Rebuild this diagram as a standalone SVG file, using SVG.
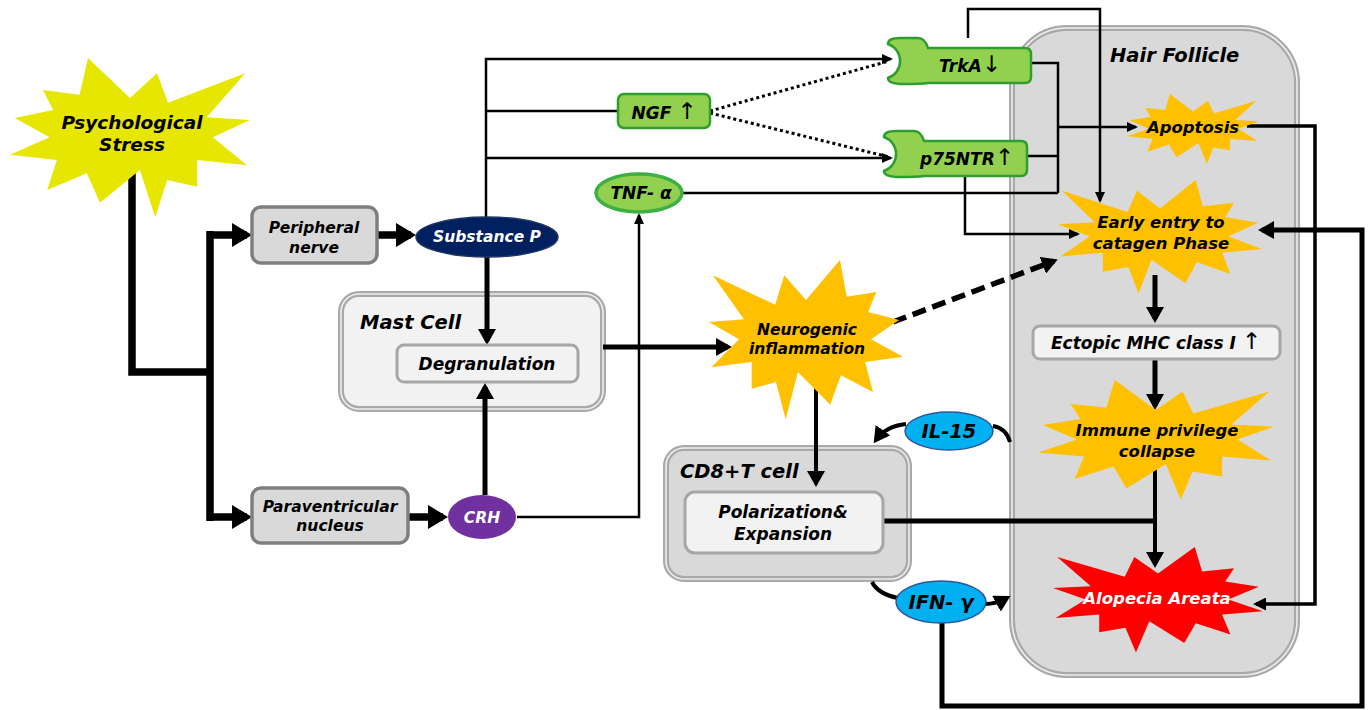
<svg xmlns="http://www.w3.org/2000/svg" width="1371" height="710" viewBox="0 0 1371 710">
<style>
text{font-family:"DejaVu Sans",Verdana,sans-serif;font-weight:bold;font-style:italic;fill:#000;text-anchor:middle}
.t15{font-size:15.5px}.t16{font-size:16.5px}.t17{font-size:17px}.t18{font-size:18.5px}.t19{font-size:19.5px}
.lft{text-anchor:start}
.wt{fill:#fff}
.arr{font-size:23px;font-style:normal;font-weight:normal}
.box{fill:#d9d9d9;stroke:#7f7f7f;stroke-width:3.5}
.inner{fill:#f2f2f2;stroke:#a6a6a6;stroke-width:3}
.cellO{stroke:#a9a9a9;stroke-width:6}
.cellI{fill:none;stroke:#eeeeee;stroke-width:1.6}
.green{fill:#92d050;stroke:#2e9e2e;stroke-width:2.5}
.blue{fill:#00b0f0;stroke:#2f5597;stroke-width:1.5}
.ln{fill:none;stroke:#000;stroke-linejoin:miter}
.w2{stroke-width:2.5}.w3{stroke-width:3.5}.w4{stroke-width:4}.w5{stroke-width:5}.w7{stroke-width:7.5}
.dot{stroke-width:3;stroke-dasharray:3 3}
.dash{stroke-width:5.5;stroke-dasharray:14 7}
</style>
<defs>
<path id="burst" d="M-0.35,-1 L0,-0.5 L0.225,-0.81 L0.317,-0.44 L0.96,-0.81 L0.64,-0.26 L1,-0.225 L0.69,-0.01 L0.975,0.34 L0.56,0.275 L0.56,0.61 L0.31,0.525 L0.21,0.99 L0.083,0.4 L-0.25,0.81 L-0.36,0.44 L-0.69,0.65 L-0.61,0.275 L-1,0.21 L-0.67,-0.01 L-0.96,-0.25 L-0.64,-0.35 L-0.725,-0.6 L-0.42,-0.54 Z"/>
<path id="wrench" d="M12,0 H30 Q37,0 40,10 H137 Q143,10 143,16 V39 Q143,45 137,45 H40 Q33,46 16,46 Q0,46 0,40 A18,18 0 0 0 0,6 Q0,0 12,0 Z"/>
<marker id="ahL" markerUnits="userSpaceOnUse" markerWidth="20" markerHeight="24" refX="15" refY="12" orient="auto"><path d="M0,0 L20,12 L0,24 Z"/></marker>
<marker id="ahM" markerUnits="userSpaceOnUse" markerWidth="16" markerHeight="18" refX="12" refY="9" orient="auto"><path d="M0,0 L16,9 L0,18 Z"/></marker>
<marker id="ahS2" markerUnits="userSpaceOnUse" markerWidth="13" markerHeight="13" refX="10" refY="6.5" orient="auto"><path d="M0,0 L13,6.5 L0,13 Z"/></marker>
<marker id="ahS" markerUnits="userSpaceOnUse" markerWidth="11" markerHeight="10" refX="9" refY="5" orient="auto"><path d="M0,0 L11,5 L0,10 Z"/></marker>
</defs>

<g id="hair-follicle">
<rect class="cellO" x="1012" y="28" width="285" height="647" rx="55" fill="#d9d9d9"/>
<rect class="cellI" x="1012" y="28" width="285" height="647" rx="55"/>
<text class="t19 lft" x="1110" y="62">Hair Follicle</text>
</g>

<g id="mast-cell">
<rect class="cellO" x="341" y="294" width="262" height="115" rx="18" fill="#f2f2f2"/>
<rect class="cellI" x="341" y="294" width="262" height="115" rx="18"/>
<text class="t19 lft" x="360" y="329">Mast Cell</text>
</g>

<g id="cd8-cell">
<rect class="cellO" x="666" y="448" width="243" height="131" rx="18" fill="#d9d9d9"/>
<rect class="cellI" x="666" y="448" width="243" height="131" rx="18"/>
<text class="t19 lft" x="680" y="478">CD8+T cell</text>
</g>

<g id="connectors">
<path class="ln w7" d="M132,168 V372 H210"/>
<path class="ln w7" d="M210,231 V521"/>
<path class="ln w7" d="M210,235 H247" marker-end="url(#ahL)"/>
<path class="ln w7" d="M210,517 H247" marker-end="url(#ahL)"/>
<path class="ln w7" d="M377,235 H411" marker-end="url(#ahL)"/>
<path class="ln w7" d="M408,517 H443" marker-end="url(#ahL)"/>
<path class="ln w5" d="M487,257 V341" marker-end="url(#ahM)"/>
<path class="ln w5" d="M485,495 V387" marker-end="url(#ahM)"/>
<path class="ln w5" d="M603,347 H728" marker-end="url(#ahM)"/>
<path class="ln w4" d="M816,388 V483" marker-end="url(#ahM)"/>
<path class="ln w5" d="M1155,275 V319" marker-end="url(#ahM)"/>
<path class="ln w5" d="M1155,359 V406" marker-end="url(#ahM)"/>
<path class="ln w4" d="M1155,470 V564" marker-end="url(#ahM)"/>
<path class="ln w5" d="M883,521 H1155"/>
<path class="ln w5" d="M942,623 V706 H1362 V230 H1262" marker-end="url(#ahM)"/>
<path class="ln w3" d="M1247,126 H1315 V604 H1256" marker-end="url(#ahS2)"/>
<path class="ln dash" d="M893,322 L1054,261" marker-end="url(#ahM)"/>
<path class="ln w4" d="M906,424 Q886,426 876,440" marker-end="url(#ahM)"/>
<path class="ln w4" d="M1010,442 Q1006,428 993,426"/>
<path class="ln w4" d="M872,582 Q878,594 898,598"/>
<path class="ln w4" d="M985,604 Q996,604 1007,598" marker-end="url(#ahM)"/>
<path class="ln w2" d="M486,217 V59 H891" marker-end="url(#ahS)"/>
<path class="ln w2" d="M486,111 H618"/>
<path class="ln w2" d="M486,158 H891" marker-end="url(#ahS)"/>
<path class="ln dot" d="M710,111 L889,61"/>
<path class="ln dot" d="M710,113 L889,157"/>
<path class="ln w2" d="M517,517 H639 V215" marker-end="url(#ahS)"/>
<path class="ln w2" d="M682,193 H1058"/>
<path class="ln w2" d="M1030,63 H1058 V193"/>
<path class="ln w2" d="M1027,156 H1058"/>
<path class="ln w2" d="M1058,127 H1136" marker-end="url(#ahS)"/>
<path class="ln w2" d="M968,38 V9 H1100 V201" marker-end="url(#ahS)"/>
<path class="ln w2" d="M965,177 V234 H1078" marker-end="url(#ahS)"/>
</g>

<g id="psychological-stress">
<use href="#burst" transform="translate(130,138) scale(120,80)" fill="#e6e600"/>
<text class="t18" x="132" y="129">Psychological</text>
<text class="t18" x="132" y="151">Stress</text>
</g>

<g id="peripheral-nerve">
<rect class="box" x="252" y="207" width="125" height="56" rx="9"/>
<text class="t15" x="314" y="233">Peripheral</text>
<text class="t15" x="314" y="253">nerve</text>
</g>

<g id="paraventricular-nucleus">
<rect class="box" x="252" y="488" width="156" height="55" rx="9"/>
<text class="t15" x="330" y="512">Paraventricular</text>
<text class="t15" x="330" y="531">nucleus</text>
</g>

<g id="substance-p">
<ellipse cx="487" cy="237" rx="71" ry="20" fill="#002060" stroke="#1f3864" stroke-width="1.5"/>
<text class="t15 wt" x="487" y="242">Substance P</text>
</g>

<g id="crh">
<ellipse cx="482" cy="517" rx="34" ry="22" fill="#7030a0"/>
<text class="t15 wt" x="482" y="523">CRH</text>
</g>

<g id="degranulation">
<rect class="inner" x="397" y="345" width="181" height="37" rx="7"/>
<text class="t17" x="487" y="370">Degranulation</text>
</g>

<g id="ngf">
<rect class="green" x="618" y="94" width="92" height="34" rx="6" stroke-width="3.5"/>
<text class="t17" x="664" y="119">NGF <tspan class="arr">↑</tspan></text>
</g>

<g id="tnf-alpha">
<ellipse cx="639" cy="193" rx="43" ry="19" fill="#92d050" stroke="#3cb043" stroke-width="3.5"/>
<text class="t17" x="641" y="199">TNF- α</text>
</g>

<g id="trka">
<use href="#wrench" class="green" transform="translate(888,38)"/>
<text class="t17" x="970" y="72">TrkA<tspan class="arr">↓</tspan></text>
</g>

<g id="p75ntr">
<use href="#wrench" class="green" transform="translate(884,131)"/>
<text class="t17" x="967" y="165">p75NTR<tspan class="arr">↑</tspan></text>
</g>

<g id="neurogenic-inflammation">
<use href="#burst" transform="translate(806,340) scale(-97,80)" fill="#ffc000"/>
<text class="t15" x="807" y="335">Neurogenic</text>
<text class="t15" x="807" y="354">inflammation</text>
</g>

<g id="polarization-expansion">
<rect class="inner" x="685" y="492" width="198" height="61" rx="10"/>
<text class="t17" x="783" y="518">Polarization&amp;</text>
<text class="t17" x="783" y="540">Expansion</text>
</g>

<g id="il-15">
<ellipse class="blue" cx="949" cy="431" rx="44" ry="19"/>
<text class="t19" x="949" y="438">IL-15</text>
</g>

<g id="ifn-gamma">
<ellipse class="blue" cx="941" cy="602" rx="45" ry="21"/>
<text class="t19" x="941" y="609">IFN- γ</text>
</g>

<g id="apoptosis">
<use href="#burst" transform="translate(1193,129) scale(66,35)" fill="#ffc000"/>
<text class="t16" x="1193" y="133">Apoptosis</text>
</g>

<g id="early-catagen">
<use href="#burst" transform="translate(1160,237) scale(-102,57)" fill="#ffc000"/>
<text class="t16" x="1161" y="228">Early entry to</text>
<text class="t16" x="1161" y="249">catagen Phase</text>
</g>

<g id="ectopic-mhc">
<rect class="inner" x="1033" y="326" width="247" height="33" rx="7"/>
<text class="t17" x="1156" y="349">Ectopic MHC class I <tspan class="arr">↑</tspan></text>
</g>

<g id="immune-privilege-collapse">
<use href="#burst" transform="translate(1156,440) scale(118,60)" fill="#ffc000"/>
<text class="t16" x="1157" y="436">Immune privilege</text>
<text class="t16" x="1157" y="457">collapse</text>
</g>

<g id="alopecia-areata">
<use href="#burst" transform="translate(1158,600) scale(-105,53)" fill="#ff0000"/>
<text class="t16 wt" x="1157" y="604">Alopecia Areata</text>
</g>
</svg>
